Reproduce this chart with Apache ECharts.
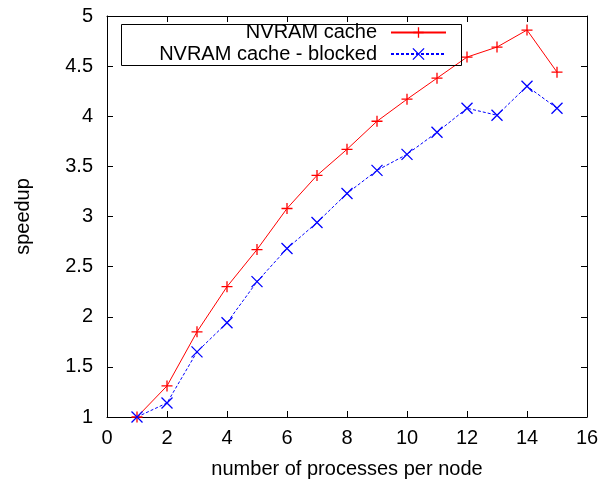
<!DOCTYPE html>
<html>
<head>
<meta charset="utf-8">
<script src="https://cdn.jsdelivr.net/npm/echarts@6/dist/echarts.min.js"></script>
<style>
html,body{margin:0;padding:0;background:#fff;}
#chart{width:612px;height:484px;}
</style>
</head>
<body>
<div id="chart"></div>
<script>
const processes = [1, 2, 3, 4, 5, 6, 7, 8, 9, 10, 11, 12, 13, 14, 15];
const nvramCache = [1.00, 1.31, 1.85, 2.30, 2.67, 3.08, 3.41, 3.67, 3.95, 4.17, 4.38, 4.59, 4.69, 4.86, 4.44];
const nvramBlocked = [1.00, 1.14, 1.65, 1.94, 2.35, 2.68, 2.94, 3.23, 3.46, 3.62, 3.84, 4.08, 4.01, 4.30, 4.08];
const seriesNames = ['NVRAM cache', 'NVRAM cache - blocked'];
const xTitle = 'number of processes per node';
const yTitle = 'speedup';

const FONT = 'Liberation Sans';
const FS = 20;
const pairs = (ys) => processes.map((x, i) => [x, ys[i]]);
const PLUS = 'path://M5,0L5,10M0,5L10,5';
const CROSS = 'path://M0,0L10,10M0,10L10,0';

const axisCommon = {
  type: 'value',
  axisLine: { show: true, onZero: false, lineStyle: { color: '#000', width: 1 } },
  axisTick: { show: true, inside: true, length: 6, lineStyle: { color: '#000', width: 1 } },
  splitLine: { show: false },
};

const chart = echarts.init(document.getElementById('chart'), null, { renderer: 'canvas' });
chart.setOption({
  animation: false,
  backgroundColor: '#fff',
  textStyle: { fontFamily: FONT },
  grid: { left: 107, right: 25, top: 16, bottom: 62, containLabel: false },
  xAxis: [
    Object.assign({}, axisCommon, {
      position: 'bottom', min: 0, max: 16, interval: 2,
      axisLabel: { color: '#000', fontFamily: FONT, fontSize: FS, margin: 11 },
      name: xTitle, nameLocation: 'middle', nameGap: 42,
      nameTextStyle: { color: '#000', fontFamily: FONT, fontSize: FS },
    }),
    Object.assign({}, axisCommon, {
      position: 'top', min: 0, max: 16, interval: 2,
      axisLabel: { show: false },
    }),
  ],
  yAxis: [
    Object.assign({}, axisCommon, {
      position: 'left', min: 1, max: 5, interval: 0.5,
      axisLabel: { color: '#000', fontFamily: FONT, fontSize: FS, margin: 14 },
      name: yTitle, nameLocation: 'middle', nameGap: 74,
      nameTextStyle: { color: '#000', fontFamily: FONT, fontSize: FS },
    }),
    Object.assign({}, axisCommon, {
      position: 'right', min: 1, max: 5, interval: 0.5,
      axisLabel: { show: false },
    }),
  ],
  legend: [
    {
      data: [seriesNames[0]], align: 'right', right: 165, top: 22.5, padding: 0,
      itemWidth: 55, itemHeight: 13, selectedMode: false,
      textStyle: { color: '#000', fontFamily: FONT, fontSize: FS, padding: [0, 9, 0, 0] },
      itemStyle: { borderWidth: 1.3 },
    },
    {
      data: [seriesNames[1]], align: 'right', right: 165, top: 44, padding: 0,
      itemWidth: 55, itemHeight: 14, selectedMode: false,
      textStyle: { color: '#000', fontFamily: FONT, fontSize: FS, padding: [0, 9, 0, 0] },
      itemStyle: { borderWidth: 1.3 },
    },
  ],
  graphic: [
    { type: 'rect', left: 119, top: 22, shape: { width: 340, height: 41 },
      style: { fill: 'none', stroke: '#000', lineWidth: 1 }, silent: true, z: 10 },
  ],
  series: [
    {
      name: seriesNames[0], type: 'line', data: pairs(nvramCache),
      symbol: PLUS, symbolSize: 11, showSymbol: true,
      lineStyle: { color: '#ff0000', width: 1 },
      itemStyle: { color: '#ff0000', borderColor: '#ff0000', borderWidth: 1.3 },
      emphasis: { disabled: true },
    },
    {
      name: seriesNames[1], type: 'line', data: pairs(nvramBlocked),
      symbol: CROSS, symbolSize: 11, showSymbol: true,
      lineStyle: { color: '#0000ff', width: 1, type: [3, 2] },
      itemStyle: { color: '#0000ff', borderColor: '#0000ff', borderWidth: 1.3 },
      emphasis: { disabled: true },
    },
  ],
});
</script>
</body>
</html>
